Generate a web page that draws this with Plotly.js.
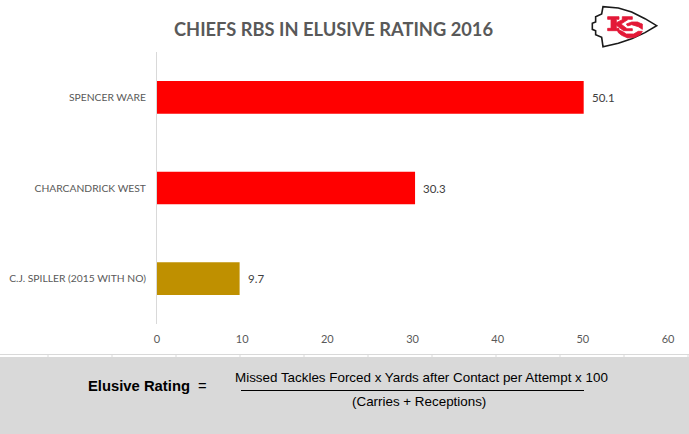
<!DOCTYPE html>
<html><head><meta charset="utf-8">
<script src="https://cdn.plot.ly/plotly-3.0.1.min.js"></script>
<style>html,body{margin:0;padding:0;background:#fff}#c{width:689px;height:434px}</style>
</head><body><div id="c"></div>
<script>
const players = ['SPENCER WARE','CHARCANDRICK WEST','C.J. SPILLER (2015 WITH NO)'];
const ratings = [50.1,30.3,9.7];
const barColors = ['#ff0000','#ff0000','#bf9000'];
const xTicks = [0,10,20,30,40,50,60];
const W=689,H=434,L=157,R=668,T=52,B=324;
const px=x=>(x-L)/(R-L), py=y=>(B-y)/(B-T);
const path=pts=>pts.map((p,i)=>(i?'L':'M')+px(p[0]).toFixed(4)+','+py(p[1]).toFixed(4)).join(' ')+' Z';
const z=a=>a.map(p=>[585+p[0]/3,p[1]/3]);
const arrow=z([[22,70],[32,66],[32,50],[50,42],[54,20],[100,24],[140,36],[180,56],[215,77],[180,98],[140,116],[100,130],[54,140],[50,112],[32,104],[32,92],[22,88]]);
const kShape=z([[68,50],[102,50],[102,58],[94,58],[94,68],[118,56],[112,58],[112,50],[142,50],[142,58],[130,58],[108,72],[126,86],[142,86],[142,92],[116,92],[94,76],[94,85],[102,85],[102,92],[68,92],[68,85],[78,85],[78,58],[68,58]]);
const cShape=z([[172,72],[172,88],[160,80],[140,74],[128,78],[124,72],[140,66],[158,66],[166,70]]);
const cShape2=z([[96,88],[112,94],[124,102],[146,102],[160,94],[172,94],[166,104],[150,112],[128,114],[110,106],[100,98]]);
const rulerTicks=[48,112,176,240,304,368,432,496,560,624,688];
const p0={type:'path',xref:'paper',yref:'paper'};
const redLine={color:'#e31837',width:0.8};
const shapes=[
 {type:'rect',xref:'paper',yref:'paper',x0:px(0),x1:px(W),y0:py(H),y1:py(357),fillcolor:'#d9d9d9',line:{width:0},layer:'below'},
 {type:'line',xref:'paper',yref:'paper',x0:px(0),x1:px(W),y0:py(354.5),y1:py(354.5),line:{color:'#d9d9d9',width:1}},
 {type:'line',xref:'paper',yref:'paper',x0:px(241),x1:px(584),y0:py(390.5),y1:py(390.5),line:{color:'#000',width:1}},
 Object.assign({path:path(arrow),fillcolor:'#fff',line:{color:'#1a1a1a',width:1.6}},p0),
 Object.assign({path:path(kShape),fillcolor:'#e31837',line:redLine},p0),
 Object.assign({path:path(cShape),fillcolor:'#e31837',line:redLine},p0),
 Object.assign({path:path(cShape2),fillcolor:'#e31837',line:redLine},p0)
];
rulerTicks.forEach(x=>shapes.push({type:'line',xref:'paper',yref:'paper',x0:px(x),x1:px(x),y0:py(354),y1:py(357),line:{color:'#d9d9d9',width:1}}));
const ann=(x,y,text,size,color,extra)=>Object.assign({xref:'paper',yref:'paper',x:px(x),y:py(y),text,showarrow:false,xanchor:'center',yanchor:'middle',font:{family:'Liberation Sans, Arial, sans-serif',size,color}},extra||{});
const annotations=[
 ann(333,29,'<b>CHIEFS RBS IN ELUSIVE RATING 2016</b>',18.3,'#595959',{font:{family:'Lato, sans-serif',size:18.3,color:'#595959'}}),
 ann(139,386,'<b>Elusive Rating</b>',14.8,'#000'),
 ann(202,386,'=',14.8,'#000'),
 ann(421,377,'Missed Tackles Forced x Yards after Contact per Attempt x 100',13.4,'#000'),
 ann(419,402,'(Carries + Receptions)',13.4,'#000')
];
ratings.forEach((v,i)=>annotations.push({xref:'x',yref:'y',x:v,y:players[i],text:v.toFixed(1),showarrow:false,xanchor:'left',yanchor:'middle',xshift:6,
 font:{family:'Lato, sans-serif',size:11.5,color:'#404040'}}));
Plotly.newPlot('c',[{
 type:'bar',orientation:'h',y:players,x:ratings,
 marker:{color:barColors},hoverinfo:'skip'
}],{
 width:W,height:H,paper_bgcolor:'#fff',plot_bgcolor:'#fff',showlegend:false,
 margin:{l:L,r:W-R,t:T,b:H-B,pad:0},bargap:0.64,
 xaxis:{range:[0,60],tickvals:xTicks,ticks:'',showgrid:false,zeroline:false,showline:false,
  tickfont:{family:'Lato, sans-serif',size:11,color:'#595959'},ticklen:0,ticklabelstandoff:7},
 yaxis:{autorange:'reversed',type:'category',showgrid:false,zeroline:false,showline:true,linecolor:'#d9d9d9',linewidth:1,ticks:'',
  tickfont:{family:'Lato, sans-serif',size:10.3,color:'#595959'},ticklabelstandoff:8},
 shapes,annotations
},{displayModeBar:false,staticPlot:true});
</script></body></html>
